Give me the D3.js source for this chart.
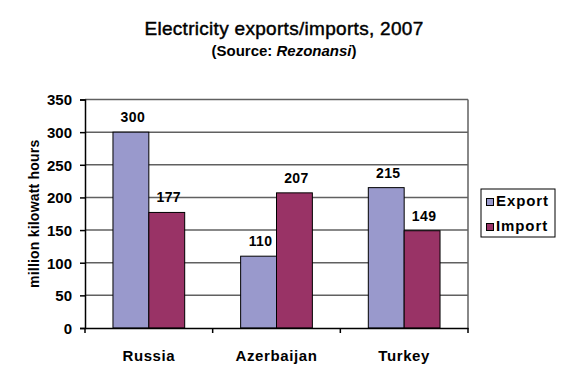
<!DOCTYPE html>
<html><head><meta charset="utf-8">
<script src="https://cdn.jsdelivr.net/npm/d3@7"></script>
<style>
body{margin:0;background:#fff;}
text{font-family:"Liberation Sans",Arial,sans-serif;font-weight:bold;fill:#000;}
</style></head>
<body>
<svg id="c" width="567" height="383"></svg>
<script>
const categories = ["Russia", "Azerbaijan", "Turkey"];
const seriesNames = ["Export", "Import"];
const exportValues = [300, 110, 215];
const importValues = [177, 207, 149];
const yTicks = [0, 50, 100, 150, 200, 250, 300, 350];
const colors = ["#9999cc", "#993366"];

const svg = d3.select("#c");
const pL = 85, pR = 468, pT = 99.5, pB = 328;

const x = d3.scaleBand().domain(categories).range([pL, pR]);
const xs = d3.scaleBand().domain(seriesNames).range([0, x.bandwidth()]).paddingOuter(0.78).paddingInner(0);
const y = d3.scaleLinear().domain([0, 350]).range([pB, pT]);

// gridlines
svg.append("g").selectAll("line").data(yTicks.filter(d => d > 0)).join("line")
  .attr("x1", pL).attr("x2", pR)
  .attr("y1", d => y(d)).attr("y2", d => y(d))
  .attr("stroke", "#606060").attr("stroke-width", 1.5);
// right border
svg.append("line").attr("x1", pR).attr("x2", pR).attr("y1", pT).attr("y2", pB)
  .attr("stroke", "#606060").attr("stroke-width", 1.5);

const data = categories.map((c, i) => ({c, vals: [exportValues[i], importValues[i]]}));
const g = svg.append("g");
data.forEach(d => {
  d.vals.forEach((v, j) => {
    const xx = x(d.c) + xs(seriesNames[j]);
    g.append("rect").attr("x", xx).attr("y", y(v))
      .attr("width", xs.bandwidth()).attr("height", pB - y(v))
      .attr("fill", colors[j]).attr("stroke", "#000").attr("stroke-width", 1);
    g.append("text").attr("x", xx + xs.bandwidth() / 2 + 2).attr("y", y(v) - 10)
      .attr("text-anchor", "middle").attr("font-size", 14).attr("letter-spacing", "0.4px").text(v);
  });
});

// y axis
const yAxis = svg.append("g").attr("transform", `translate(${pL},0)`)
  .call(d3.axisLeft(y).tickValues(yTicks).tickSize(5).tickPadding(8));
yAxis.select(".domain").attr("stroke", "#000").attr("stroke-width", 1.5);
yAxis.selectAll(".tick line").attr("stroke", "#000").attr("stroke-width", 1.5);
yAxis.selectAll("text").attr("font-size", 15).attr("font-family", "Liberation Sans, Arial, sans-serif").attr("font-weight", "bold").attr("fill", "#000").attr("dy", "0.36em");

// x axis
const xAxis = svg.append("g").attr("transform", `translate(0,${pB})`)
  .call(d3.axisBottom(x).tickSize(0).tickPadding(22));
xAxis.select(".domain").attr("stroke", "#000").attr("stroke-width", 1.5);
xAxis.selectAll("text").attr("font-size", 15).attr("letter-spacing", "0.6px")
  .attr("font-family", "Liberation Sans, Arial, sans-serif").attr("font-weight", "bold").attr("fill", "#000");
// category separators
svg.append("g").selectAll("line").data(categories.concat(["_end"])).join("line")
  .attr("x1", (d, i) => pL + i * x.step()).attr("x2", (d, i) => pL + i * x.step())
  .attr("y1", pB).attr("y2", pB + 5).attr("stroke", "#000").attr("stroke-width", 1.5);

// y label
svg.append("text").attr("transform", `translate(39,${(pT + pB) / 2}) rotate(-90)`)
  .attr("text-anchor", "middle").attr("font-size", 14).attr("letter-spacing", "0.2px").text("million kilowatt hours");

// titles
svg.append("text").attr("x", 284).attr("y", 35).attr("text-anchor", "middle")
  .attr("font-size", 19).attr("letter-spacing", "0.3px").style("font-weight", "normal")
  .attr("stroke", "#000").attr("stroke-width", 0.45).text("Electricity exports/imports, 2007");
const sub = svg.append("text").attr("x", 284).attr("y", 56).attr("text-anchor", "middle").attr("font-size", 15);
sub.append("tspan").text("(Source: ");
sub.append("tspan").attr("font-style", "italic").text("Rezonansi");
sub.append("tspan").text(")");

// legend
const lg = svg.append("g").attr("transform", "translate(481,189)");
lg.append("rect").attr("width", 74).attr("height", 48).attr("fill", "#fff").attr("stroke", "#000").attr("stroke-width", 1);
seriesNames.forEach((s, i) => {
  lg.append("rect").attr("x", 5.5).attr("y", 9.5 + i * 25).attr("width", 7).attr("height", 7)
    .attr("fill", colors[i]).attr("stroke", "#000").attr("stroke-width", 1);
  lg.append("text").attr("x", 15).attr("y", 17 + i * 25).attr("font-size", 15).attr("letter-spacing", "0.9px").text(s);
});
</script>
</body></html>
